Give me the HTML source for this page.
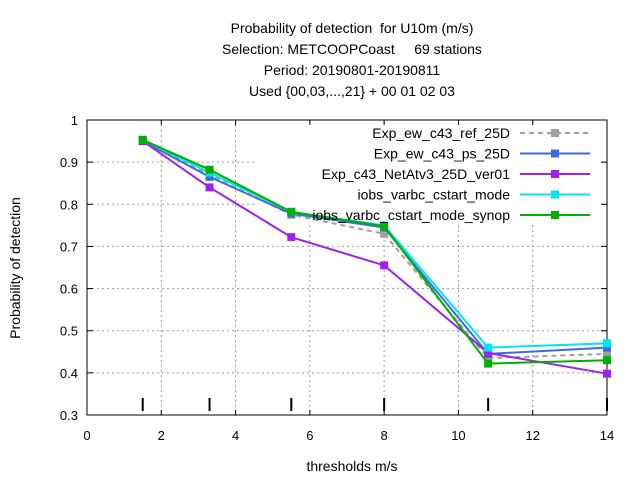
<!DOCTYPE html>
<html><head><meta charset="utf-8"><style>
body{margin:0;background:#fff}
svg text{font-family:"Liberation Sans",sans-serif;fill:#000;white-space:pre}
</style></head><body>
<svg width="640" height="480" viewBox="0 0 640 480">
<g id="titles" font-size="14" text-anchor="middle">
<text x="352" y="33" xml:space="preserve">Probability of detection  for U10m (m/s)</text>
<text x="352" y="54" xml:space="preserve">Selection: METCOOPCoast     69 stations</text>
<text x="352" y="75">Period: 20190801-20190811</text>
<text x="352" y="96">Used {00,03,...,21} + 00 01 02 03</text>
</g>
<g id="grid"></g>
<rect x="256" y="124" width="345" height="100" fill="#fff"/>
<g id="axes"></g>
<g id="series"></g>
<g id="legend" font-size="14"></g>
<text x="20" y="268" font-size="14" text-anchor="middle" transform="rotate(-90 20 268)">Probability of detection</text>
<text x="352" y="471" font-size="14" text-anchor="middle">thresholds m/s</text>
</svg>
<script>
const thresholds=[1.5,3.3,5.5,8.0,10.8,14];
const seriesNames=["Exp_ew_c43_ref_25D","Exp_ew_c43_ps_25D","Exp_c43_NetAtv3_25D_ver01","iobs_varbc_cstart_mode","iobs_varbc_cstart_mode_synop"];
const refValues=[0.95,0.87,0.775,0.73,0.435,0.445];
const psValues=[0.95,0.865,0.778,0.745,0.445,0.46];
const netValues=[0.95,0.84,0.722,0.655,0.447,0.398];
const cstartValues=[0.953,0.875,0.782,0.75,0.46,0.47];
const synopValues=[0.953,0.882,0.782,0.748,0.422,0.43];
const xTicks=[0,2,4,6,8,10,12,14];
const yTicks=[0.3,0.4,0.5,0.6,0.7,0.8,0.9,1];
const NS="http://www.w3.org/2000/svg";
const X=v=>87+v*(520/14), Y=v=>120+(1-v)*(295/0.7);
function mk(t,a,p){const e=document.createElementNS(NS,t);for(const k in a)e.setAttribute(k,a[k]);p.appendChild(e);return e;}
const grid=document.getElementById('grid'),axes=document.getElementById('axes'),ser=document.getElementById('series'),leg=document.getElementById('legend');
xTicks.forEach(t=>{if(t>0&&t<14){const l=mk('line',{x1:X(t),x2:X(t),y1:120,y2:415,stroke:'#999','stroke-dasharray':'2,3'},grid);}
 const tx=mk('text',{x:X(t),y:440,'font-size':13,'text-anchor':'middle'},axes);tx.textContent=t;
 mk('line',{x1:X(t),x2:X(t),y1:415,y2:410,stroke:'#000'},axes);mk('line',{x1:X(t),x2:X(t),y1:120,y2:125,stroke:'#000'},axes);});
yTicks.forEach(t=>{if(t>0.3&&t<1){const l=mk('line',{x1:87,x2:607,y1:Y(t),y2:Y(t),stroke:'#999','stroke-dasharray':'2,3'},grid);}
 const tx=mk('text',{x:78,y:Y(t)+5,'font-size':13,'text-anchor':'end'},axes);tx.textContent=t;
 mk('line',{x1:87,x2:93,y1:Y(t),y2:Y(t),stroke:'#000'},axes);mk('line',{x1:607,x2:601,y1:Y(t),y2:Y(t),stroke:'#000'},axes);});
const fr=mk('rect',{x:87,y:120,width:520,height:295,fill:'none',stroke:'#000'},axes);

thresholds.forEach(t=>{const m=mk('line',{x1:X(t),x2:X(t),y1:398,y2:411,stroke:'#000','stroke-width':2},axes);});
const all=[refValues,psValues,netValues,cstartValues,synopValues];
const colors=['#a0a0a0','#4169e1','#a020f0','#00e5ee','#00b000'];
all.forEach((vals,i)=>{
 const g=mk('g',{},ser);
 const d=vals.map((v,j)=>(j?'L':'M')+X(thresholds[j]).toFixed(1)+','+Y(v).toFixed(1)).join(' ');
 const p=mk('path',{d:d,fill:'none',stroke:colors[i],'stroke-width':2},g);if(i==0)p.setAttribute('stroke-dasharray','5,4');
 
 vals.forEach((v,j)=>{const r=mk('rect',{x:X(thresholds[j])-4,y:Y(v)-4,width:8,height:8,fill:colors[i]},g);});
 const ly=133+i*20.5;
 const lg=mk('g',{},leg);
 const tx=mk('text',{x:510,y:ly+5,'text-anchor':'end'},lg);tx.textContent=seriesNames[i];
 const ll=mk('line',{x1:520,x2:590,y1:ly,y2:ly,stroke:colors[i],'stroke-width':2},lg);if(i==0)ll.setAttribute('stroke-dasharray','5,4');
 mk('rect',{x:551,y:ly-4,width:8,height:8,fill:colors[i]},lg);
});
</script>
</body></html>
